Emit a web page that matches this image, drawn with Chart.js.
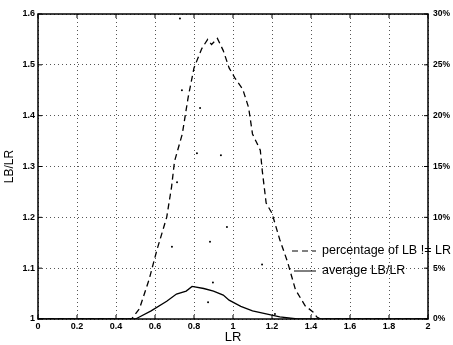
<!DOCTYPE html>
<html>
<head>
<meta charset="utf-8">
<script src="https://cdn.jsdelivr.net/npm/chart.js@4"></script>
<style>
  html, body { margin: 0; padding: 0; background: #fff; }
  #wrap { width: 453px; height: 345px; }
</style>
</head>
<body>
<div id="wrap"><canvas id="chart" width="453" height="345"></canvas></div>
<script>
// percentage of LB != LR (right axis, %)
const pctX = [0, 0.48, 0.52, 0.57, 0.61, 0.66, 0.685, 0.70, 0.74, 0.77, 0.80, 0.84, 0.87, 0.89, 0.92, 0.95, 0.98, 1.01, 1.05, 1.08, 1.10, 1.14, 1.15, 1.17, 1.20, 1.24, 1.28, 1.32, 1.37, 1.41, 1.43, 1.45, 2];
const pctY = [0, 0, 1.0, 3.9, 6.8, 10.0, 13.0, 15.5, 18.2, 21.8, 24.7, 26.6, 27.5, 27.0, 27.6, 26.4, 24.7, 23.7, 22.6, 20.8, 18.2, 16.6, 14.6, 11.4, 10.4, 7.8, 5.6, 2.9, 1.3, 0.7, 0.2, 0, 0];
// average LB/LR (left axis)
const avgX = [0, 0.5, 0.52, 0.58, 0.66, 0.71, 0.76, 0.79, 0.85, 0.90, 0.95, 0.98, 1.04, 1.10, 1.17, 1.24, 1.33, 1.4, 2];
const avgY = [1, 1, 1.004, 1.016, 1.035, 1.049, 1.055, 1.064, 1.060, 1.055, 1.047, 1.037, 1.025, 1.016, 1.010, 1.004, 1.0, 1.0, 1.0];
// stray dots in the figure
const dotX = [0.728, 0.738, 0.831, 0.815, 0.938, 0.713, 0.687, 0.882, 0.897, 0.872, 0.969, 1.149, 1.215];
const dotY = [1.591, 1.450, 1.415, 1.326, 1.322, 1.269, 1.142, 1.152, 1.072, 1.033, 1.181, 1.107, 1.010];

const xTicks = [0, 0.2, 0.4, 0.6, 0.8, 1, 1.2, 1.4, 1.6, 1.8, 2];
const yTicks = [1, 1.1, 1.2, 1.3, 1.4, 1.5, 1.6];
const pctTicks = [0, 5, 10, 15, 20, 25, 30];

const legendLabels = ["percentage of LB != LR", "average LB/LR"];

const toPts = (xs, ys) => xs.map((x, i) => ({ x: x, y: ys[i] }));
const font = "'Liberation Sans', Arial, sans-serif";

// box + inward tick marks + right labels + legend
const frame = {
  id: "frame",
  afterDatasetsDraw(chart) {
    const c = chart.ctx, a = chart.chartArea;
    const sx = chart.scales.x, sy = chart.scales.y, sp = chart.scales.y2;
    c.save();
    c.strokeStyle = "#000";
    c.lineWidth = 1.5;
    c.strokeRect(a.left, a.top, a.right - a.left, a.bottom - a.top);
    c.lineWidth = 1;
    c.beginPath();
    xTicks.forEach(v => {
      const p = sx.getPixelForValue(v);
      c.moveTo(p, a.bottom); c.lineTo(p, a.bottom - 4);
      c.moveTo(p, a.top); c.lineTo(p, a.top + 4);
    });
    yTicks.forEach(v => {
      const p = sy.getPixelForValue(v);
      c.moveTo(a.left, p); c.lineTo(a.left + 4, p);
    });
    pctTicks.forEach(v => {
      const p = sp.getPixelForValue(v);
      c.moveTo(a.right, p); c.lineTo(a.right - 4, p);
    });
    c.stroke();

    c.fillStyle = "#000";
    c.textBaseline = "middle";
    c.textAlign = "left";
    c.font = "bold 8.5px " + font;
    pctTicks.forEach(v => {
      c.fillText(v + "%", a.right + 5, sp.getPixelForValue(v));
    });

    // legend
    const lx = a.left + 254, ly = a.top + 237;
    c.font = "12.5px " + font;
    c.setLineDash([6, 4]);
    c.beginPath(); c.moveTo(lx, ly); c.lineTo(lx + 24, ly); c.stroke();
    c.setLineDash([]);
    c.beginPath(); c.moveTo(lx + 2, ly + 20); c.lineTo(lx + 24, ly + 20); c.stroke();
    c.fillText(legendLabels[0], lx + 30, ly);
    c.fillText(legendLabels[1], lx + 30, ly + 20);
    c.restore();
  }
};

new Chart(document.getElementById("chart"), {
  type: "scatter",
  plugins: [frame],
  data: {
    datasets: [
      {
        label: legendLabels[0],
        data: toPts(pctX, pctY),
        yAxisID: "y2",
        showLine: true,
        borderColor: "#000",
        borderWidth: 1.3,
        borderDash: [6, 4],
        pointRadius: 0,
        tension: 0
      },
      {
        label: legendLabels[1],
        data: toPts(avgX, avgY),
        yAxisID: "y",
        showLine: true,
        borderColor: "#000",
        borderWidth: 1.3,
        pointRadius: 0,
        tension: 0
      },
      {
        label: "dots",
        data: toPts(dotX, dotY),
        yAxisID: "y",
        showLine: false,
        pointRadius: 1,
        pointBorderWidth: 0,
        backgroundColor: "#000"
      }
    ]
  },
  options: {
    responsive: false,
    animation: false,
    layout: { padding: { top: 14, right: 0, left: 2, bottom: 0 } },
    plugins: { legend: { display: false }, tooltip: { enabled: false } },
    scales: {
      x: {
        type: "linear",
        min: 0, max: 2,
        afterBuildTicks: s => { s.ticks = xTicks.map(v => ({ value: v })); },
        afterFit: s => { s.height = 26; },
        grid: { color: "#555", lineWidth: 1, drawTicks: false },
        border: { display: false, dash: [1, 3] },
        ticks: { color: "#000", padding: 2, font: { family: font, size: 9, weight: "bold" }, callback: v => String(+v.toFixed(1)) },
        title: { display: true, text: "LR", color: "#000", padding: { top: 3, bottom: 0 }, font: { family: font, size: 13 } }
      },
      y: {
        type: "linear",
        position: "left",
        min: 1, max: 1.6,
        afterBuildTicks: s => { s.ticks = yTicks.map(v => ({ value: v })); },
        afterFit: s => { s.width = 36; },
        grid: { color: "#555", lineWidth: 1, drawTicks: false },
        border: { display: false, dash: [1, 3] },
        ticks: { color: "#000", padding: 3, font: { family: font, size: 9, weight: "bold" }, callback: v => String(+v.toFixed(1)) },
        title: { display: true, text: "LB/LR", color: "#000", padding: { top: 0, bottom: 2 }, font: { family: font, size: 12 } }
      },
      y2: {
        type: "linear",
        position: "right",
        min: 0, max: 30,
        afterBuildTicks: s => { s.ticks = pctTicks.map(v => ({ value: v })); },
        afterFit: s => { s.width = 25; },
        grid: { display: false },
        border: { display: false },
        ticks: { display: false }
      }
    }
  }
});
</script>
</body>
</html>
